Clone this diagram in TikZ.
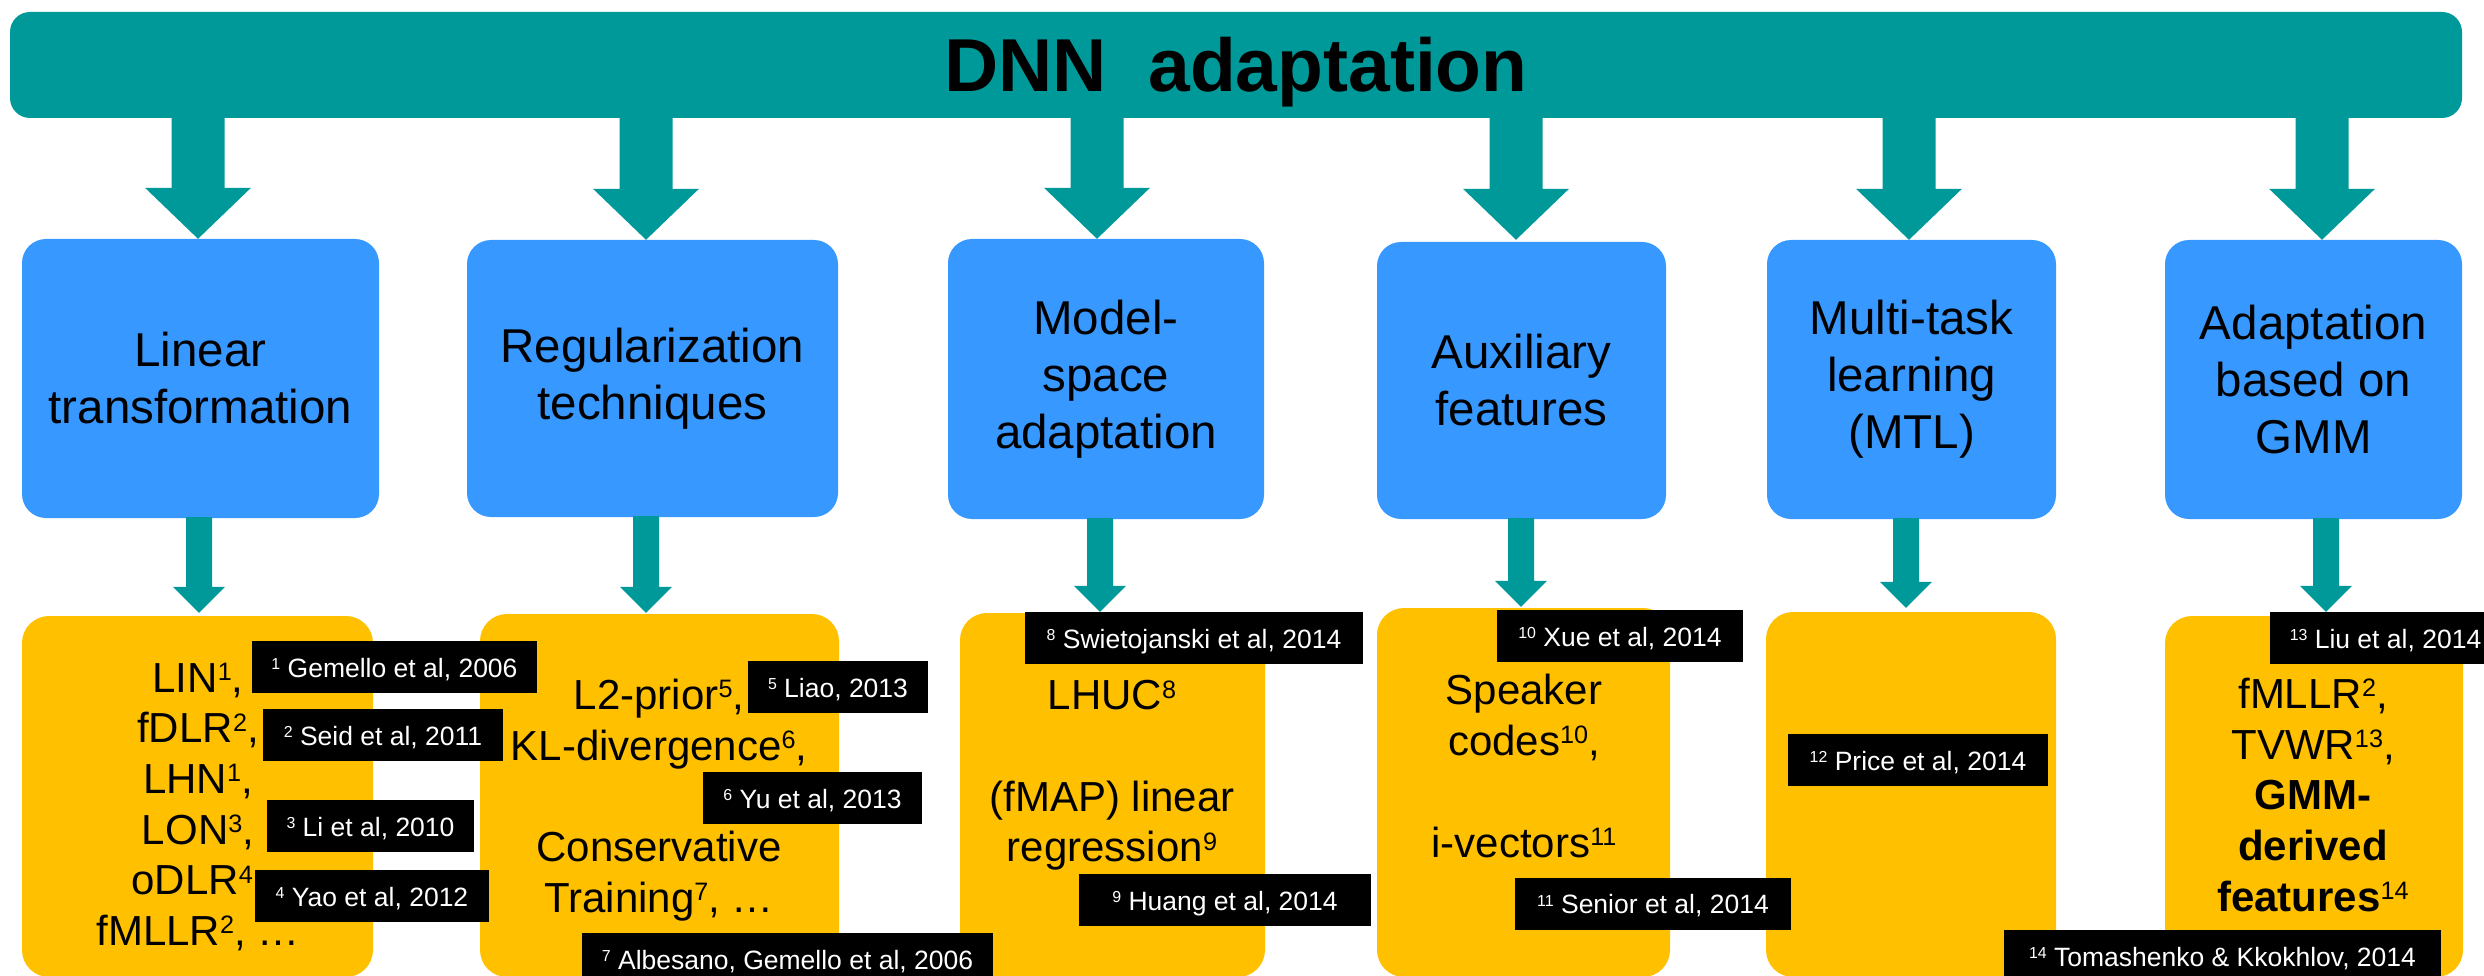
\documentclass[tikz,border=0pt]{standalone}
\usepackage{fontspec}
\setmainfont{Liberation Sans}
\usetikzlibrary{calc}
\definecolor{bannerteal}{RGB}{0,153,153}
\definecolor{boxblue}{RGB}{55,152,255}
\definecolor{boxyellow}{RGB}{255,192,0}
\makeatletter
\newlength\supsz
\newcommand\sups[2][0.6]{\setlength\supsz{\f@size pt}\setlength\supsz{#1\supsz}\raisebox{\dimexpr0.70em-0.70\supsz\relax}{\fontsize{\supsz}{\supsz}\selectfont #2}}
\makeatother
% block arrow: #1 start, #2 tip, #3 half shaft width, #4 half head width, #5 head length
\newcommand\blockarrow[5]{\fill[bannerteal] let \p1=(#1), \p2=(#2) in (\x2-#3,\y1) -- (\x2-#3,\y2+#5) -- (\x2-#4,\y2+#5) -- (\x2,\y2) -- (\x2+#4,\y2+#5) -- (\x2+#3,\y2+#5) -- (\x2+#3,\y1) -- cycle;}
\begin{document}
\begin{tikzpicture}[x=1pt,y=-1pt,
  banner/.style={fill=bannerteal, rounded corners=20pt, inner sep=0pt},
  catbox/.style={fill=boxblue, rounded corners=24pt, align=center, inner sep=0pt,
    font=\fontsize{47.5}{57}\selectfont},
  itembox/.style={fill=boxyellow, rounded corners=27pt, inner sep=0pt},
  itemtext/.style={align=center, inner sep=0pt, font=\fontsize{42}{50.7}\selectfont},
  reflabel/.style={fill=black, text=white, inner sep=0pt, minimum height=52pt,
    text height=20pt, text depth=0pt, font=\fontsize{26.5}{30}\selectfont}]
\useasboundingbox (0,0) rectangle (2484,976);

% banner
\node[banner, minimum width=2452pt, minimum height=106pt, text height=54pt, text depth=0pt,
  font=\bfseries\fontsize{75}{80}\selectfont] (banner) at (1236,65) {DNN~~adaptation};

% category boxes
\node[catbox, minimum width=357pt, minimum height=279pt] (B1) at (200.5,378.5) {Linear\\transformation};
\node[catbox, minimum width=371pt, minimum height=277pt] (B2) at (652.5,378.5) {Regularization\\techniques};
\node[catbox, minimum width=316pt, minimum height=280pt] (B3) at (1106,379) {Model-\\space\\adaptation};
\node[catbox, minimum width=289pt, minimum height=277pt] (B4) at (1521.5,380.5) {Auxiliary\\features};
\node[catbox, minimum width=289pt, minimum height=279pt] (B5) at (1911.5,379.5) {Multi-task\\learning\\(MTL)};
\node[catbox, minimum width=297pt, minimum height=279pt] (B6) at (2313.5,379.5) {Adaptation\\based on\\GMM};

% item boxes
\node[itembox, minimum width=351pt, minimum height=361pt] (Y1) at (197.5,796.5) {};
\node[itembox, minimum width=359pt, minimum height=363pt] (Y2) at (659.5,795.5) {};
\node[itembox, minimum width=305pt, minimum height=364pt] (Y3) at (1112.5,795) {};
\node[itembox, minimum width=293pt, minimum height=369pt] (Y4) at (1523.5,792.5) {};
\node[itembox, minimum width=290pt, minimum height=365pt] (Y5) at (1911,794.5) {};
\node[itembox, minimum width=298pt, minimum height=361pt] (Y6) at (2314,796.5) {};

% arrows banner -> categories
\coordinate (a1) at ($(B1.north)+(-2.5,0)$);
\coordinate (a2) at ($(B2.north)+(-6.5,0)$);
\coordinate (a3) at ($(B3.north)+(-9,0)$);
\coordinate (a4) at ($(B4.north)+(-5.5,-2)$);
\coordinate (a5) at ($(B5.north)+(-2.5,0)$);
\coordinate (a6) at ($(B6.north)+(8.5,0)$);
\foreach \i in {1,...,6}{\blockarrow{$(banner.south -| a\i)+(0,-2)$}{a\i}{26.5pt}{53pt}{51pt}}

% arrows categories -> items
\coordinate (c1) at ($(Y1.north)+(1.5,-3)$);
\coordinate (c2) at ($(Y2.north)+(-13.5,-1)$);
\coordinate (c3) at ($(Y3.north)+(-12.5,-1)$);
\coordinate (c4) at ($(Y4.north)+(-2.5,-1)$);
\coordinate (c5) at ($(Y5.north)+(-5,-4)$);
\coordinate (c6) at ($(Y6.north)+(12,-4)$);
\foreach \i in {1,...,6}{\blockarrow{$(B\i.south -| c\i)+(0,-1)$}{c\i}{13pt}{26pt}{26pt}}

% item texts
\node[itemtext] (T1) at (198,807) {LIN\sups{1},\\fDLR\sups{2},\\LHN\sups{1},\\LON\sups{3},\\oDLR\sups{4},\\fMLLR\sups{2}, …};
\node[itemtext] (T2) at (659,800) {L2-prior\sups{5},\\KL-divergence\sups{6},\\\mbox{}\\Conservative\\Training\sups{7}, …};
\node[itemtext] (T3) at (1112,775.5) {LHUC\sups{8}\\\mbox{}\\(fMAP) linear\\regression\sups{9}};
\node[itemtext] (T4) at (1524,766) {Speaker\\codes\sups{10},\\\mbox{}\\i-vectors\sups{11}};
\node[itemtext] (T6) at (2313,795) {fMLLR\sups{2},\\TVWR\sups{13},\\\textbf{GMM-}\\\textbf{derived}\\\textbf{features}\sups{14}};

% reference labels
\node[reflabel, minimum width=285pt] (L1) at (394.5,667) {\sups{1} Gemello et al, 2006};
\node[reflabel, minimum width=240pt] (L2) at (383,735) {\sups{2} Seid et al, 2011};
\node[reflabel, minimum width=207pt] (L3) at (370.5,826) {\sups{3} Li et al, 2010};
\node[reflabel, minimum width=234pt] (L4) at (372,896) {\sups{4} Yao et al, 2012};
\node[reflabel, minimum width=180pt] (L5) at (838,687) {\sups{5} Liao, 2013};
\node[reflabel, minimum width=219pt] (L6) at (812.5,798) {\sups{6} Yu et al, 2013};
\node[reflabel, minimum width=411pt] (L7) at (787.5,959) {\sups{7} Albesano, Gemello et al, 2006};
\node[reflabel, minimum width=338pt] (L8) at (1194,638) {\sups{8} Swietojanski et al, 2014};
\node[reflabel, minimum width=292pt] (L9) at (1225,900) {\sups{9} Huang et al, 2014};
\node[reflabel, minimum width=246pt] (L10) at (1620,636) {\sups{10} Xue et al, 2014};
\node[reflabel, minimum width=276pt] (L11) at (1653,903.5) {\sups{11} Senior et al, 2014};
\node[reflabel, minimum width=260pt] (L12) at (1918,760) {\sups{12} Price et al, 2014};
\node[reflabel, minimum width=231pt] (L13) at (2385.5,638) {\sups{13} Liu et al, 2014};
\node[reflabel, minimum width=437pt] (L14) at (2222.5,956) {\sups{14} Tomashenko \& Kkokhlov, 2014};
\end{tikzpicture}
\end{document}
